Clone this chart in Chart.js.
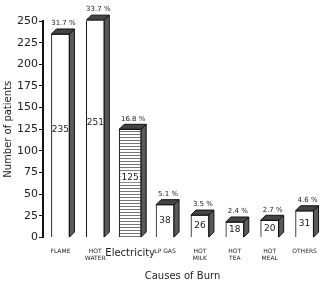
<!DOCTYPE html>
<html lang="en">
<head>
    <meta charset="UTF-8">
    <title>Causes of Burn</title>
    <script src="https://cdn.jsdelivr.net/npm/chart.js@4"></script>
    <style>
        body {
            margin: 0;
            background-color: #ffffff;
            font-family: "DejaVu Sans", sans-serif;
        }

        #chartBox {
            width: 328px;
            height: 289px;
        }
    </style>
</head>
<body>
    <div id="chartBox"><canvas id="grafico"></canvas></div>

    <script>
        const categories = [['FLAME'], ['HOT', 'WATER'], ['Electricity'], ['LP GAS'], ['HOT', 'MILK'], ['HOT', 'TEA'], ['HOT', 'MEAL'], ['OTHERS']];
        const patients = [235, 251, 125, 38, 26, 18, 20, 31];
        const percents = ['31.7 %', '33.7 %', '16.8 %', '5.1 %', '3.5 %', '2.4 %', '2.7 %', '4.6 %'];
        const yTicks = [0, 25, 50, 75, 100, 125, 150, 175, 200, 225, 250];
        const ELECTRICITY = 2;

        const DEPTH = 5;

        // horizontal stripes for the Electricity bar
        function stripes() {
            const c = document.createElement('canvas');
            c.width = 4;
            c.height = 3;
            const g = c.getContext('2d');
            g.fillStyle = '#ffffff';
            g.fillRect(0, 0, 4, 3);
            g.fillStyle = '#777777';
            g.fillRect(0, 2, 4, 1);
            return g.createPattern(c, 'repeat');
        }

        const plainValues = patients.map((v, i) => i === ELECTRICITY ? null : v);
        const elecValues = patients.map((v, i) => i === ELECTRICITY ? v : null);

        const box3d = {
            id: 'box3d',
            afterDatasetsDraw(chart) {
                const ctx = chart.ctx;
                ctx.save();
                chart.data.datasets.forEach((ds, di) => {
                    const meta = chart.getDatasetMeta(di);
                    meta.data.forEach((bar, i) => {
                        if (ds.data[i] === null) return;
                        const p = bar.getProps(['x', 'y', 'base', 'width'], true);
                        const left = p.x - p.width / 2;
                        const right = p.x + p.width / 2;
                        const top = p.y;
                        const bottom = p.base;

                        ctx.lineWidth = 1;
                        ctx.strokeStyle = '#111111';

                        // side face
                        ctx.beginPath();
                        ctx.moveTo(right, top);
                        ctx.lineTo(right + DEPTH, top - DEPTH);
                        ctx.lineTo(right + DEPTH, bottom - DEPTH);
                        ctx.lineTo(right, bottom);
                        ctx.closePath();
                        ctx.fillStyle = '#5a5a5a';
                        ctx.fill();
                        ctx.stroke();

                        // top face
                        ctx.beginPath();
                        ctx.moveTo(left, top);
                        ctx.lineTo(left + DEPTH, top - DEPTH);
                        ctx.lineTo(right + DEPTH, top - DEPTH);
                        ctx.lineTo(right, top);
                        ctx.closePath();
                        ctx.fillStyle = '#444444';
                        ctx.fill();
                        ctx.stroke();

                        // value in the front face
                        ctx.fillStyle = '#222222';
                        ctx.font = '9px "DejaVu Sans", sans-serif';
                        ctx.textAlign = 'center';
                        ctx.textBaseline = 'middle';
                        const midY = bottom - top > 60 ? (top + bottom) / 2 - 6 : (top + bottom) / 2;
                        if (i === ELECTRICITY) {
                            const w = ctx.measureText(ds.data[i]).width;
                            ctx.fillStyle = '#ffffff';
                            ctx.fillRect(p.x - w / 2 - 1, midY - 5, w + 2, 10);
                            ctx.fillStyle = '#222222';
                        }
                        ctx.fillText(ds.data[i], p.x, midY);

                        // share above the box
                        ctx.font = '7px "DejaVu Sans", sans-serif';
                        ctx.textBaseline = 'bottom';
                        ctx.fillText(percents[i], p.x + 3, top - DEPTH - 2);
                    });
                });
                ctx.restore();
            }
        };

        new Chart(document.getElementById('grafico'), {
            type: 'bar',
            data: {
                labels: categories,
                datasets: [{
                    data: plainValues,
                    backgroundColor: '#ffffff',
                    borderColor: '#111111',
                    borderWidth: 1,
                    barThickness: 18,
                    grouped: false
                }, {
                    data: elecValues,
                    backgroundColor: stripes(),
                    borderColor: '#111111',
                    borderWidth: 1,
                    barThickness: 22,
                    grouped: false
                }]
            },
            options: {
                responsive: true,
                maintainAspectRatio: false,
                animation: false,
                layout: {
                    padding: { top: 21, right: 6, left: 2, bottom: 7 }
                },
                plugins: {
                    legend: { display: false },
                    tooltip: { enabled: false }
                },
                scales: {
                    x: {
                        grid: { display: false },
                        border: { display: false },
                        ticks: {
                            color: '#222222',
                            padding: 2,
                            maxRotation: 0,
                            autoSkip: false,
                            font: (c) => c.index === ELECTRICITY
                                ? { size: 10, family: '"DejaVu Sans", sans-serif' }
                                : { size: 6, family: '"DejaVu Sans", sans-serif' }
                        },
                        title: {
                            display: true,
                            text: 'Causes of Burn',
                            color: '#222222',
                            font: { size: 10, family: '"DejaVu Sans", sans-serif' },
                            padding: { top: 6, bottom: 0 }
                        }
                    },
                    y: {
                        min: 0,
                        max: 250,
                        afterBuildTicks: (axis) => {
                            axis.ticks = yTicks.map(v => ({ value: v }));
                        },
                        grid: {
                            drawOnChartArea: false,
                            drawTicks: true,
                            tickLength: 4,
                            color: '#111111'
                        },
                        border: { color: '#111111', width: 2 },
                        ticks: {
                            color: '#222222',
                            padding: 1,
                            font: { size: 11, family: '"DejaVu Sans", sans-serif' }
                        },
                        title: {
                            display: true,
                            text: 'Number of patients',
                            color: '#222222',
                            font: { size: 10, family: '"DejaVu Sans", sans-serif' },
                            padding: { top: 0, bottom: 2 }
                        }
                    }
                }
            },
            plugins: [box3d]
        });
    </script>
</body>
</html>
